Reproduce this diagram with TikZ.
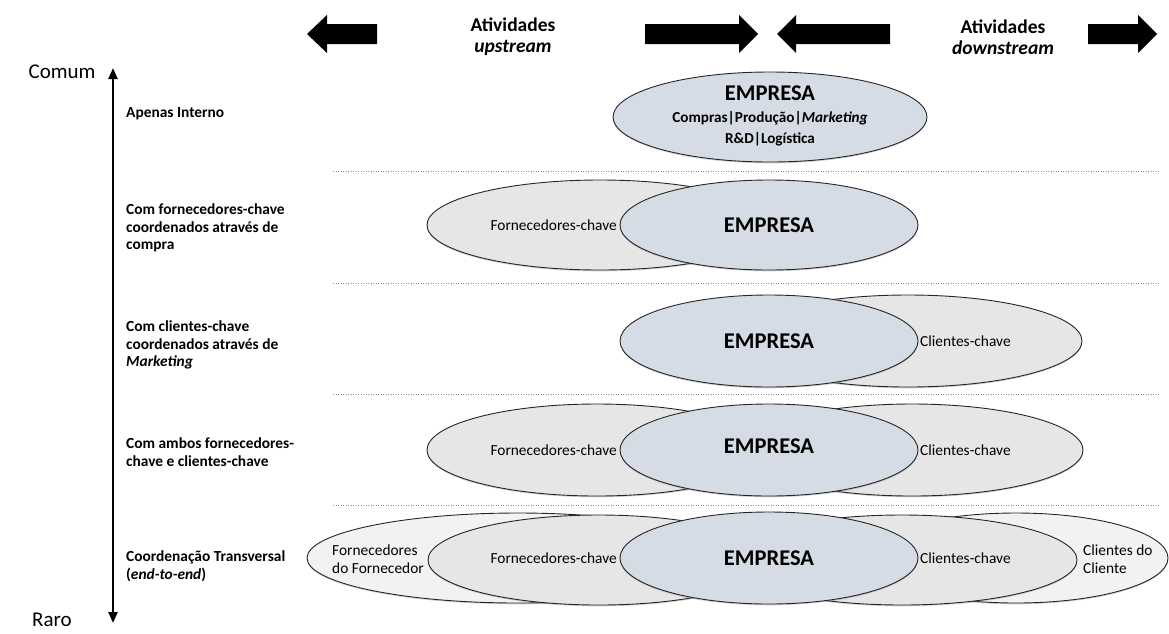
\documentclass[tikz,border=0pt]{standalone}
\usepackage{fontspec}
\setmainfont{Carlito}
\usetikzlibrary{arrows.meta,shapes.geometric,shadows}

\definecolor{firmfill}{HTML}{D6DCE5}
\definecolor{keyfill}{HTML}{E6E6E6}
\definecolor{outerfill}{HTML}{F2F2F2}
\definecolor{rim}{HTML}{262626}

% smaller bold size for the department list inside the firm
\newcommand{\deptsize}{\fontsize{15.2}{19}\selectfont}

\tikzset{
  shape base/.style={ellipse, draw=rim, line width=0.9pt, inner sep=0pt,
    drop shadow={opacity=0.35, shadow xshift=0pt, shadow yshift=-1.3pt}},
  firm/.style={shape base, fill=firmfill},
  keyp/.style={shape base, fill=keyfill},
  outerp/.style={shape base, fill=outerfill},
  firmtxt/.style={font=\fontsize{22.5}{26}\selectfont\bfseries, inner sep=0pt},
  parttxt/.style={font=\fontsize{15.4}{18}\selectfont, inner sep=0pt, align=left},
  rowlbl/.style={font=\fontsize{15.4}{17.6}\selectfont\bfseries, inner sep=0pt, align=left, anchor=west},
  endlbl/.style={font=\fontsize{21}{24}\selectfont, inner sep=0pt},
  headtxt/.style={font=\fontsize{19.5}{22}\selectfont\bfseries, inner sep=0pt, align=center},
  separator/.style={draw=black!45, line width=0.8pt, dash pattern=on 1.2pt off 1.3pt},
  blockarrow/.style={fill=black},
}

\begin{document}
\begin{tikzpicture}[x=1pt,y=-1pt]
  \useasboundingbox[fill=white] (0,0) rectangle (1169,633);

  % ---- block arrows along the top
  \fill[blockarrow] (307,34) -- (327,15) -- (327,24) -- (377,24) -- (377,44) -- (327,44) -- (327,53) -- cycle;
  \fill[blockarrow] (758,34) -- (739,15) -- (739,24) -- (645,24) -- (645,44) -- (739,44) -- (739,53) -- cycle;
  \fill[blockarrow] (777,34) -- (796,15) -- (796,24) -- (890,24) -- (890,44) -- (796,44) -- (796,53) -- cycle;
  \fill[blockarrow] (1157,34) -- (1138,15) -- (1138,24) -- (1088,24) -- (1088,44) -- (1138,44) -- (1138,53) -- cycle;
  \node[headtxt] (up) at (513,37) {Atividades\\[-1pt]\textit{upstream}};
  \node[headtxt] (down) at (1003,37) {Atividades\\[-1pt]\textit{downstream}};

  % ---- frequency axis
  \coordinate (axtop) at (113,68);
  \coordinate (axbot) at (113,623);
  \draw[line width=2.4pt, {Triangle[width=9pt,length=11pt]}-{Triangle[width=9pt,length=11pt]}] (axtop) -- (axbot);
  \node[endlbl] (comum) at (62,72) {Comum};
  \node[endlbl] (raro) at (52,620) {Raro};

  % ---- row labels
  \node[rowlbl] (l1) at (126,114) {Apenas Interno};
  \node[rowlbl] (l2) at (126,228) {Com fornecedores-chave\\coordenados através de\\compra};
  \node[rowlbl] (l3) at (126,345) {Com clientes-chave\\coordenados através de\\\textit{Marketing}};
  \node[rowlbl] (l4) at (126,452) {Com ambos fornecedores-\\chave e clientes-chave};
  \node[rowlbl] (l5) at (126,566) {Coordenação Transversal\\(\textit{end-to-end})};

  % ---- row separators
  \foreach \yy [count=\i] in {171,283,394,505} {
    \coordinate (sa\i) at (333,\yy);
    \coordinate (sb\i) at (1160,\yy);
    \draw[separator] (sa\i) -- (sb\i);
  }

  % ---- row 1: internal only
  \node[firm, minimum width=314pt, minimum height=90pt] (e1) at (770,117) {};
  \node[firmtxt, align=center] (e1t) at (770,116)
    {EMPRESA\\[-4pt]{\deptsize Compras|Produção|\textit{Marketing}}\\[-5pt]
     {\deptsize R\&D|Logística}};

  % ---- row 2: key suppliers
  \node[keyp, minimum width=346pt, minimum height=90pt] (f2) at (600,225) {};
  \node[firm, minimum width=298pt, minimum height=90pt] (e2) at (769,225) {};
  \node[firmtxt] (e2t) at (e2) {EMPRESA};
  \node[parttxt, anchor=east] (f2t) at (617,225) {Fornecedores-chave};

  % ---- row 3: key customers
  \node[keyp, minimum width=348pt, minimum height=92pt] (c3) at (908,341) {};
  \node[firm, minimum width=298pt, minimum height=92pt] (e3) at (769,341) {};
  \node[firmtxt] (e3t) at (e3) {EMPRESA};
  \node[parttxt, anchor=west] (c3t) at (920,341) {Clientes-chave};

  % ---- row 4: both
  \node[keyp, minimum width=340pt, minimum height=92pt] (f4) at (597,450) {};
  \node[keyp, minimum width=342pt, minimum height=92pt] (c4) at (912,450) {};
  \node[firm, minimum width=298pt, minimum height=92pt] (e4) at (769,450) {};
  \node[firmtxt] (e4t) at (769,446) {EMPRESA};
  \node[parttxt, anchor=east] (f4t) at (617,450) {Fornecedores-chave};
  \node[parttxt, anchor=west] (c4t) at (920,450) {Clientes-chave};

  % ---- row 5: end-to-end
  \node[outerp, minimum width=422pt, minimum height=90pt] (ff5) at (518,558) {};
  \node[outerp, minimum width=304pt, minimum height=90pt] (cc5) at (1016,558) {};
  \node[keyp, minimum width=342pt, minimum height=90pt] (f5) at (599,560) {};
  \node[keyp, minimum width=350pt, minimum height=90pt] (c5) at (902,560) {};
  \node[firm, minimum width=298pt, minimum height=92pt] (e5) at (769,558) {};
  \node[firmtxt] (e5t) at (e5) {EMPRESA};
  \node[parttxt, anchor=east] (f5t) at (617,558) {Fornecedores-chave};
  \node[parttxt, anchor=west] (c5t) at (920,558) {Clientes-chave};
  \node[parttxt, anchor=west] (ff5t) at (332,559) {Fornecedores\\do Fornecedor};
  \node[parttxt, anchor=west] (cc5t) at (1083,559) {Clientes do\\Cliente};
\end{tikzpicture}
\end{document}
